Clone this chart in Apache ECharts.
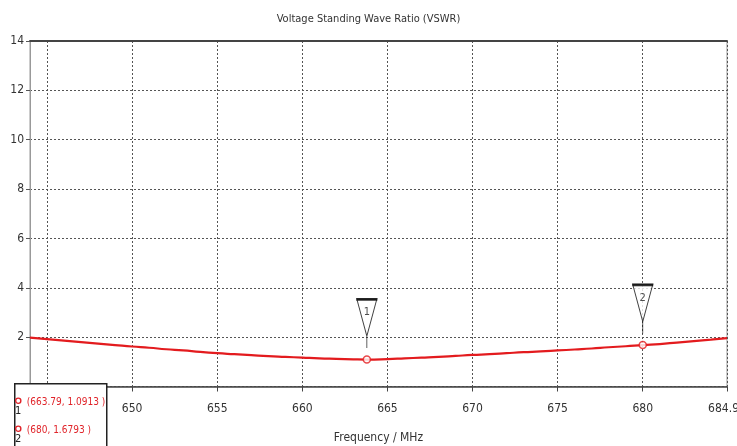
<!DOCTYPE html>
<html><head><meta charset="utf-8">
<script src="https://cdn.jsdelivr.net/npm/echarts@6/dist/echarts.min.js"></script>
<style>html,body{margin:0;padding:0;background:#fff}#c{width:737px;height:446px}</style>
</head><body><div id="c"></div>
<script>
var titleText = 'Voltage Standing Wave Ratio (VSWR)';
var xName = 'Frequency / MHz';
var freq = [644,645,646,647,648,649,650,651,652,653,654,655,656,657,658,659,660,661,662,663,663.79,665,666,667,668,669,670,671,672,673,674,675,676,677,678,679,680,681,682,683,684,684.95];
var vswr = [1.98,1.92,1.86,1.80,1.74,1.68,1.62,1.57,1.51,1.46,1.40,1.35,1.31,1.27,1.23,1.20,1.17,1.14,1.12,1.10,1.0913,1.11,1.14,1.17,1.20,1.24,1.28,1.31,1.35,1.39,1.42,1.46,1.50,1.54,1.59,1.63,1.6793,1.72,1.78,1.84,1.90,1.96];
var xTicks = [645,650,655,660,665,670,675,680,684.95];
var markerIds = ['1','2'];
var markerX = [663.79, 680];
var markerY = [1.0913, 1.6793];
var xMin = 644, xMax = 684.95, yMin = 0, yMax = 14, yStep = 2;

var FONT = '"DejaVu Sans Condensed","Liberation Sans Narrow",sans-serif';
var lineData = freq.map(function(f,i){return [f, vswr[i]];});
var mk = markerX.map(function(x,i){return [x, markerY[i]];});

var chart = echarts.init(document.getElementById('c'));
var legendChildren = [{
  type:'rect', z:100, shape:{x:0,y:0,width:92,height:80},
  style:{fill:'#fff', stroke:'#222', lineWidth:1.5}
}];
markerIds.forEach(function(id,i){
  var cy = 19 + i*28;
  legendChildren.push({type:'circle', z:101, shape:{cx:3.5, cy:cy-2, r:2.6}, style:{fill:'#fff', stroke:'#e0242a', lineWidth:1.4}});
  legendChildren.push({type:'text', z:101, x:3.5, y:cy+8, style:{text:id, fill:'#222', font:'11px '+FONT, align:'center', verticalAlign:'middle'}});
  legendChildren.push({type:'text', z:101, x:12, y:cy, style:{text:'(' + markerX[i] + ', ' + markerY[i] + ' )', fill:'#e0242a', font:'10px '+FONT, verticalAlign:'middle'}});
});

chart.setOption({
  animation:false,
  backgroundColor:'#fff',
  title:{text:titleText, left:'center', top:9, textStyle:{fontFamily:FONT, fontSize:11, fontWeight:'normal', color:'#333'}},
  grid:{left:30, right:10, top:41, bottom:59.5, show:true, borderColor:'#999', borderWidth:1, containLabel:false, outerBoundsMode:'none'},
  xAxis:[{
    type:'value', min:xMin, max:xMax,
    name:xName, nameLocation:'middle', nameGap:45,
    nameTextStyle:{fontFamily:FONT, fontSize:12, color:'#333'},
    axisLine:{show:true, lineStyle:{color:'#444', width:1.5}},
    axisTick:{show:true, customValues:xTicks, length:5, lineStyle:{color:'#444'}},
    axisLabel:{customValues:xTicks, fontFamily:FONT, fontSize:12, color:'#333', margin:16,
      formatter:function(v){return String(v);}},
    splitLine:{show:true, lineStyle:{color:'#555', type:[2,2], width:1}}
  },{
    type:'value', position:'top', min:xMin, max:xMax,
    axisLine:{show:true, lineStyle:{color:'#444', width:2}},
    axisTick:{show:false}, axisLabel:{show:false}, splitLine:{show:false}
  }],
  yAxis:{
    type:'value', min:yMin, max:yMax, interval:yStep,
    axisLine:{show:true, lineStyle:{color:'#999', width:1}},
    axisTick:{show:true, length:4, lineStyle:{color:'#555'}},
    axisLabel:{fontFamily:FONT, fontSize:12, color:'#333', margin:6, showMinLabel:false},
    splitLine:{show:true, lineStyle:{color:'#555', type:[2,2], width:1}}
  },
  series:[{
    type:'line', data:lineData, showSymbol:false, smooth:true,
    lineStyle:{color:'#e31b1e', width:2.2}, z:3
  },{
    type:'scatter', data:mk, symbol:'circle', symbolSize:7,
    itemStyle:{color:'#fff', borderColor:'#e31b1e', borderWidth:1.5}, z:5
  },{
    type:'scatter', data:mk,
    symbol:'path://M0,0 L20,0 L10,37 Z M10,37 L10,49',
    symbolSize:[20,49], symbolOffset:[0,-36],
    itemStyle:{color:'#fff', borderColor:'#111', borderWidth:1.3},
    label:{show:true, position:'inside', offset:[0,-11], fontFamily:FONT, fontSize:11, color:'#222',
      formatter:function(p){return markerIds[p.dataIndex];}},
    z:6
  },{
    type:'scatter', data:mk, symbol:'rect', symbolSize:[21,2.5], symbolOffset:[0,-60],
    itemStyle:{color:'#111'}, z:7, silent:true
  }],
  graphic:[{type:'group', left:14, top:383, z:100, children:legendChildren}]
});
</script></body></html>
